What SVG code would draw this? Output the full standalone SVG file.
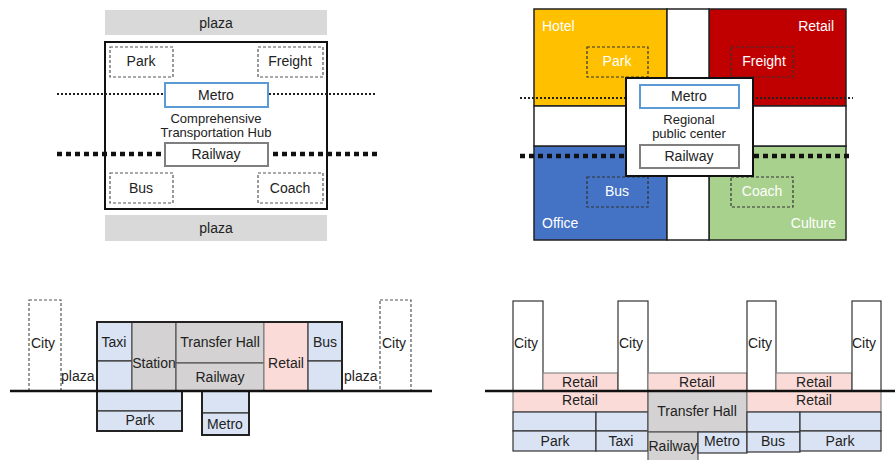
<svg xmlns="http://www.w3.org/2000/svg" width="896" height="460" viewBox="0 0 896 460">
<style>
text{font-family:"Liberation Sans",Arial,sans-serif;font-size:14px;fill:#222;text-anchor:middle;dominant-baseline:central}
.two{font-size:13px}
.w{fill:#fff}
.l{text-anchor:start}
.r{text-anchor:end}
.dash{fill:none;stroke:#555;stroke-width:1.2;stroke-dasharray:3 2}
.dashk{fill:none;stroke:#333;stroke-width:1.2;stroke-dasharray:3 2}
.thin{stroke:#222;stroke-width:2;stroke-dasharray:2 2;fill:none}
.thick{stroke:#111;stroke-width:4.5;stroke-dasharray:5 4;fill:none}
.blk{stroke:#222;stroke-width:1.5}
.lb{fill:#dae3f3;stroke:#333;stroke-width:1.2}
.gr{fill:#d4d2d2;stroke:#555;stroke-width:1.2}
.pk{fill:#fadbd8;stroke:#888;stroke-width:1.2}
.wb{fill:#fff;stroke:#333;stroke-width:1.2}
</style>

<!-- Top-left panel -->
<g id="tl-plaza-top"><rect x="105" y="10" width="222" height="25" fill="#d9d9d9"/><text x="216" y="23">plaza</text></g>
<g id="tl-hub"><rect x="105" y="42" width="222" height="167" fill="#fff" stroke="#111" stroke-width="2"/>
<text x="216" y="118" class="two">Comprehensive</text><text x="216" y="132" class="two">Transportation Hub</text></g>
<g id="tl-lines"><line x1="57" y1="94" x2="377" y2="94" class="thin"/><line x1="57" y1="154" x2="377" y2="154" class="thick"/></g>
<g id="tl-park"><rect x="110" y="47" width="63" height="30" class="dash" fill="#fff"/><text x="141" y="61">Park</text></g>
<g id="tl-freight"><rect x="258" y="47" width="65" height="30" class="dash" fill="#fff"/><text x="290" y="61">Freight</text></g>
<g id="tl-metro"><rect x="165" y="83" width="103" height="24" fill="#fff" stroke="#5b9bd5" stroke-width="2"/><text x="216" y="95">Metro</text></g>
<g id="tl-railway"><rect x="165" y="143" width="103" height="23" fill="#fff" stroke="#7f7f7f" stroke-width="2"/><text x="216" y="154">Railway</text></g>
<g id="tl-bus"><rect x="110" y="173" width="63" height="30" class="dash" fill="#fff"/><text x="141" y="188">Bus</text></g>
<g id="tl-coach"><rect x="258" y="173" width="65" height="30" class="dash" fill="#fff"/><text x="290" y="188">Coach</text></g>
<g id="tl-plaza-bottom"><rect x="105" y="215" width="222" height="26" fill="#d9d9d9"/><text x="216" y="228">plaza</text></g>

<!-- Top-right panel -->
<g id="tr-hotel"><rect x="534" y="9" width="133" height="97" fill="#ffc000" class="blk"/><text x="542" y="26" class="l w">Hotel</text></g>
<g id="tr-retail"><rect x="709" y="9" width="137" height="97" fill="#c00000" class="blk"/><text x="834" y="26" class="r w">Retail</text></g>
<g id="tr-office"><rect x="534" y="146" width="133" height="94" fill="#4472c4" class="blk"/><text x="542" y="223" class="l w">Office</text></g>
<g id="tr-culture"><rect x="709" y="146" width="137" height="94" fill="#a9d18e" class="blk"/><text x="836" y="223" class="r w">Culture</text></g>
<g id="tr-strips"><rect x="667" y="9" width="42" height="231" fill="#fff" class="blk"/><rect x="534" y="106" width="312" height="40" fill="#fff" class="blk"/></g>
<g id="tr-park"><rect x="587" y="47" width="61" height="30" class="dashk"/><text x="617" y="61" class="w">Park</text></g>
<g id="tr-freight"><rect x="731" y="47" width="62" height="30" class="dashk"/><text x="764" y="61" class="w">Freight</text></g>
<g id="tr-bus"><rect x="587" y="177" width="61" height="30" class="dashk"/><text x="617" y="191" class="w">Bus</text></g>
<g id="tr-coach"><rect x="731" y="177" width="62" height="30" class="dashk"/><text x="762" y="191" class="w">Coach</text></g>
<g id="tr-lines"><line x1="520" y1="98" x2="853" y2="98" class="thin"/><line x1="520" y1="156" x2="853" y2="156" class="thick"/></g>
<g id="tr-center"><rect x="626" y="78" width="127" height="98" fill="#fff" stroke="#111" stroke-width="2"/>
<text x="689" y="119" class="two">Regional</text><text x="689" y="133" class="two">public center</text></g>
<g id="tr-metro"><rect x="640" y="85" width="99" height="23" fill="#fff" stroke="#5b9bd5" stroke-width="2"/><text x="689" y="96">Metro</text></g>
<g id="tr-railway"><rect x="640" y="145" width="99" height="23" fill="#fff" stroke="#7f7f7f" stroke-width="2"/><text x="689" y="156">Railway</text></g>

<!-- Bottom-left panel -->
<g id="bl-city-left"><rect x="29" y="300" width="32" height="91" class="dash" fill="#fff"/><text x="31" y="343" class="l">City</text></g>
<g id="bl-city-right"><rect x="380" y="300" width="31" height="91" class="dash" fill="#fff"/><text x="382" y="343" class="l">City</text></g>
<g id="bl-plaza-left"><text x="61" y="376" class="l">plaza</text></g>
<g id="bl-plaza-right"><text x="344" y="376" class="l">plaza</text></g>
<g id="bl-taxi"><rect x="97" y="322" width="35" height="39" class="lb"/><rect x="97" y="361" width="35" height="30" class="lb"/><text x="114" y="342">Taxi</text></g>
<g id="bl-station"><rect x="132" y="322" width="44" height="69" class="gr"/><text x="154" y="363">Station</text></g>
<g id="bl-transfer"><rect x="176" y="322" width="88" height="41" class="gr"/><text x="220" y="342">Transfer Hall</text></g>
<g id="bl-railway"><rect x="176" y="363" width="88" height="28" class="gr"/><text x="220" y="377">Railway</text></g>
<g id="bl-retail"><rect x="264" y="322" width="44" height="69" class="pk"/><text x="286" y="363">Retail</text></g>
<g id="bl-bus"><rect x="308" y="322" width="34" height="39" class="lb"/><rect x="308" y="361" width="34" height="30" class="lb"/><text x="325" y="342">Bus</text></g>
<rect x="97" y="322" width="245" height="69" fill="none" stroke="#222" stroke-width="2"/>
<g id="bl-park"><rect x="97" y="391" width="85" height="20" class="lb"/><rect x="97" y="411" width="85" height="20" class="lb"/><rect x="97" y="391" width="85" height="40" fill="none" stroke="#222" stroke-width="2"/><text x="140" y="420">Park</text></g>
<g id="bl-metro"><rect x="202" y="391" width="47" height="22" class="lb"/><rect x="202" y="413" width="47" height="22" class="lb"/><rect x="202" y="391" width="47" height="44" fill="none" stroke="#222" stroke-width="2"/><text x="225" y="424">Metro</text></g>
<g id="bl-ground"><line x1="10" y1="391" x2="432" y2="391" stroke="#111" stroke-width="2.5"/></g>

<!-- Bottom-right panel -->
<g id="br-city1"><rect x="513" y="301" width="30" height="90" class="wb"/><text x="514" y="343" class="l">City</text></g>
<g id="br-retail1"><rect x="543" y="373" width="75" height="18" class="pk"/><text x="580" y="382">Retail</text></g>
<g id="br-city2"><rect x="618" y="301" width="30" height="90" class="wb"/><text x="619" y="343" class="l">City</text></g>
<g id="br-retail2"><rect x="648" y="373" width="99" height="18" class="pk"/><text x="697" y="382">Retail</text></g>
<g id="br-city3"><rect x="747" y="301" width="29" height="90" class="wb"/><text x="748" y="343" class="l">City</text></g>
<g id="br-retail3"><rect x="776" y="373" width="76" height="18" class="pk"/><text x="814" y="382">Retail</text></g>
<g id="br-city4"><rect x="852" y="301" width="29" height="90" class="wb"/><text x="852" y="343" class="l">City</text></g>
<g id="br-retail-ul"><rect x="513" y="391" width="135" height="21" class="pk"/><text x="580" y="400">Retail</text></g>
<g id="br-blue-l"><rect x="513" y="412" width="83" height="19" class="lb"/><rect x="596" y="412" width="52" height="19" class="lb"/></g>
<g id="br-park-l"><rect x="513" y="431" width="83" height="20" class="lb"/><text x="555" y="441">Park</text></g>
<g id="br-taxi"><rect x="596" y="431" width="52" height="20" class="lb"/><text x="621" y="441">Taxi</text></g>
<g id="br-transfer"><rect x="648" y="391" width="99" height="41" class="gr"/><text x="697" y="411">Transfer Hall</text></g>
<g id="br-railway"><rect x="648" y="432" width="50" height="30" class="gr"/><text x="673" y="446">Railway</text></g>
<g id="br-metro"><rect x="698" y="432" width="49" height="21" class="lb"/><text x="722" y="441">Metro</text></g>
<g id="br-retail-ur"><rect x="747" y="391" width="134" height="21" class="pk"/><text x="814" y="400">Retail</text></g>
<g id="br-blue-r"><rect x="747" y="412" width="53" height="20" class="lb"/><rect x="800" y="412" width="81" height="19" class="lb"/></g>
<g id="br-bus"><rect x="747" y="432" width="53" height="20" class="lb"/><text x="773" y="441">Bus</text></g>
<g id="br-park-r"><rect x="800" y="431" width="81" height="20" class="lb"/><text x="840" y="441">Park</text></g>
<g id="br-ground"><line x1="485" y1="391" x2="895" y2="391" stroke="#111" stroke-width="2.5"/></g>
</svg>
